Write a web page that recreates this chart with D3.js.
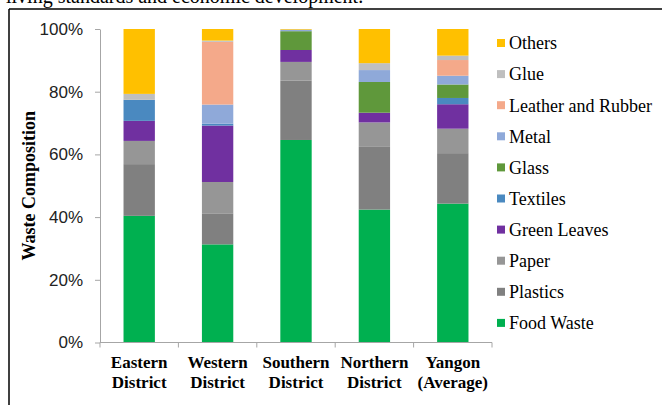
<!DOCTYPE html>
<html>
<head>
<meta charset="utf-8">
<script src="https://cdn.jsdelivr.net/npm/d3@7"></script>
<style>
  html, body { margin: 0; padding: 0; background: #fff; }
  svg { display: block; }
</style>
</head>
<body>
<div id="chart"></div>
<script>
// Waste composition by district (% of total)
const districts = [['Eastern', 'District'], ['Western', 'District'], ['Southern', 'District'], ['Northern', 'District'], ['Yangon', '(Average)']];
const seriesNames = ['Food Waste', 'Plastics', 'Paper', 'Green Leaves', 'Textiles', 'Glass', 'Metal', 'Leather and Rubber', 'Glue', 'Others'];
const seriesColors = ['#00B050', '#808080', '#969696', '#7030A0', '#4A89C0', '#5F983B', '#8FA9D9', '#F4A98A', '#BFBFBF', '#FFC000'];

const foodWaste = [40.4, 31.3, 64.6, 42.4, 44.3];
const plastics = [16.5, 9.9, 18.9, 20.0, 16.1];
const paper = [7.4, 10.0, 6.0, 7.8, 7.8];
const greenLeaves = [6.4, 18.0, 3.8, 3.1, 7.8];
const textiles = [6.7, 0.6, 0, 0, 2.0];
const glass = [0, 0, 6.0, 9.8, 4.3];
const metal = [0, 6.1, 0.5, 3.8, 2.8];
const leather = [0, 20.0, 0, 0, 5.0];
const glue = [1.9, 0.4, 0, 2.2, 1.4];
const others = [20.7, 3.7, 0.2, 10.9, 8.5];

const yTicks = [0, 20, 40, 60, 80, 100];

function init() {
  const width = 662, height = 405;
  const margin = { top: 29, left: 100, right: 170, bottom: 62.5 };

  const svg = d3.select('#chart').append('svg')
    .attr('width', width)
    .attr('height', height);

  // surrounding page text (cut at the top, as in the scan) and frame
  svg.append('text')
    .attr('x', 6)
    .attr('y', 3)
    .style('font-family', '"Liberation Serif", "Times New Roman", serif')
    .style('font-size', '20px')
    .text('living standards and economic development.');

  svg.append('line')
    .attr('x1', 9).attr('x2', width)
    .attr('y1', 9).attr('y2', 9)
    .attr('stroke', '#000').attr('stroke-width', 1.5);
  svg.append('line')
    .attr('x1', 9).attr('x2', 9)
    .attr('y1', 9).attr('y2', height)
    .attr('stroke', '#000').attr('stroke-width', 1.5);

  const table = districts.map((d, i) => ({
    key: i,
    'Food Waste': foodWaste[i],
    'Plastics': plastics[i],
    'Paper': paper[i],
    'Green Leaves': greenLeaves[i],
    'Textiles': textiles[i],
    'Glass': glass[i],
    'Metal': metal[i],
    'Leather and Rubber': leather[i],
    'Glue': glue[i],
    'Others': others[i]
  }));

  const stacked = d3.stack().keys(seriesNames)(table);

  const x = d3.scaleBand()
    .domain(districts.map((d, i) => i))
    .range([margin.left, width - margin.right])
    .padding(0);

  const y = d3.scaleLinear()
    .domain([0, 100])
    .range([height - margin.bottom, margin.top]);

  const color = d3.scaleOrdinal().domain(seriesNames).range(seriesColors);
  const barW = x.bandwidth() * 0.4;

  // bars
  svg.append('g')
    .selectAll('g')
    .data(stacked)
    .join('g')
    .attr('fill', d => color(d.key))
    .selectAll('rect')
    .data(d => d)
    .join('rect')
    .attr('x', d => x(d.data.key) + (x.bandwidth() - barW) / 2)
    .attr('width', barW)
    .attr('y', d => y(d[1]))
    .attr('height', d => y(d[0]) - y(d[1]));

  // y axis
  const yAxis = svg.append('g')
    .attr('transform', `translate(${margin.left},0)`)
    .call(d3.axisLeft(y).tickValues(yTicks).tickFormat(d => d + '%').tickSize(5).tickSizeOuter(0).tickPadding(12));
  yAxis.select('.domain').attr('stroke', '#A6A6A6');
  yAxis.selectAll('.tick line').attr('stroke', '#A6A6A6');
  yAxis.selectAll('.tick text')
    .style('font-family', '"Liberation Sans", Arial, sans-serif')
    .style('font-size', '17px')
    .attr('fill', '#222');

  // x axis
  const xAxisY = y(0);
  svg.append('line')
    .attr('x1', margin.left).attr('x2', width - margin.right)
    .attr('y1', xAxisY).attr('y2', xAxisY)
    .attr('stroke', '#A6A6A6');
  const bounds = districts.map((d, i) => x(i)).concat([x(districts.length - 1) + x.bandwidth()]);
  svg.append('g')
    .selectAll('line')
    .data(bounds)
    .join('line')
    .attr('x1', d => d).attr('x2', d => d)
    .attr('y1', xAxisY).attr('y2', xAxisY + 5)
    .attr('stroke', '#A6A6A6');

  const labels = svg.append('g')
    .selectAll('text')
    .data(districts)
    .join('text')
    .attr('text-anchor', 'middle')
    .attr('x', (d, i) => x(i) + x.bandwidth() / 2)
    .attr('y', xAxisY + 25)
    .style('font-family', '"Liberation Serif", "Times New Roman", serif')
    .style('font-size', '17px')
    .style('font-weight', 'bold');
  labels.append('tspan')
    .attr('x', (d, i) => x(i) + x.bandwidth() / 2)
    .text(d => d[0]);
  labels.append('tspan')
    .attr('x', (d, i) => x(i) + x.bandwidth() / 2)
    .attr('dy', 20)
    .text(d => d[1]);

  // y axis title
  svg.append('text')
    .attr('transform', `translate(35,${(y(0) + y(100)) / 2}) rotate(-90)`)
    .attr('text-anchor', 'middle')
    .style('font-family', '"Liberation Serif", "Times New Roman", serif')
    .style('font-size', '18px')
    .style('font-weight', 'bold')
    .text('Waste Composition');

  // legend
  const legendData = seriesNames.slice().reverse();
  const legend = svg.append('g')
    .selectAll('g')
    .data(legendData)
    .join('g')
    .attr('transform', (d, i) => `translate(497,${43 + i * 31.1})`);
  legend.append('rect')
    .attr('x', 0).attr('y', -4)
    .attr('width', 8).attr('height', 8)
    .attr('fill', d => color(d));
  legend.append('text')
    .attr('x', 12)
    .attr('y', 0)
    .attr('dy', '0.35em')
    .style('font-family', '"Liberation Serif", "Times New Roman", serif')
    .style('font-size', '18px')
    .text(d => d);
}

document.addEventListener('DOMContentLoaded', init);
</script>
</body>
</html>
